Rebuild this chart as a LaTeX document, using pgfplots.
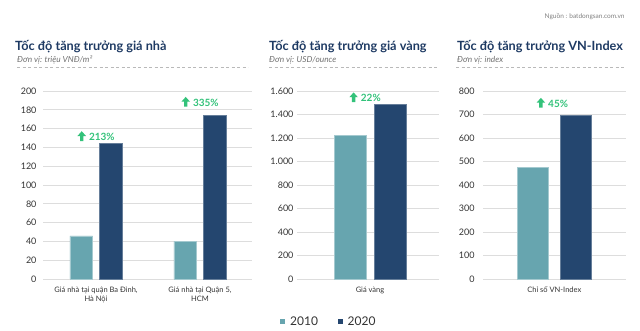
\documentclass[border=0pt]{standalone}
\usepackage{fontspec}
\setmainfont{Lato}
\usepackage{pgfplots}
\pgfplotsset{compat=1.18}
\definecolor{cA}{HTML}{67A5AF}
\definecolor{cB}{HTML}{24466F}
\definecolor{titlec}{HTML}{1E3A63}
\definecolor{greenc}{HTML}{33C27A}
\definecolor{gridc}{HTML}{DDDDDD}
\definecolor{tickc}{HTML}{333333}
\definecolor{subc}{HTML}{707070}
\pgfplotsset{
  panel/.style={
    scale only axis, ybar, ymin=0, height=188pt,
    axis line style={draw=none}, tick style={draw=none},
    ymajorgrids, grid style={gridc, line width=0.9pt},
    enlarge x limits=false, clip=false,
    /pgf/number format/assume math mode=true,
    /pgf/number format/1000 sep={.},
    yticklabel style={font=\fontsize{9}{10}\selectfont, color=tickc},
    xticklabel style={font=\fontsize{7.5}{9}\selectfont, color=tickc, align=center},
    anchor=south west,
  },
}
\tikzset{annot/.style={font=\fontsize{10}{12}\selectfont\bfseries, color=greenc}}
\newcommand{\uparr}{\tikz[baseline=0pt]\fill[greenc] (-1.7pt,-0.5pt) -- (1.7pt,-0.5pt) -- (1.7pt,4.5pt) -- (4.3pt,4.5pt) -- (0pt,9.3pt) -- (-4.3pt,4.5pt) -- (-1.7pt,4.5pt) -- cycle;}
\newcommand{\up}[1]{\uparr\hspace{3pt}#1}
\begin{document}
\begin{tikzpicture}
\path[use as bounding box] (0,0) rectangle (640pt,330pt);
% source
\node[anchor=east, font=\fontsize{6.5}{8}\selectfont, color=gray] at (628pt,313pt) {Nguồn : batdongsan.com.vn};
% titles
\node[anchor=base west, font=\fontsize{12.7}{14}\selectfont\bfseries, color=titlec, inner sep=0] at (15pt,279pt) {Tốc độ tăng trưởng giá nhà};
\node[anchor=base west, font=\fontsize{12.7}{14}\selectfont\bfseries, color=titlec, inner sep=0] at (269pt,279pt) {Tốc độ tăng trưởng giá vàng};
\node[anchor=base west, font=\fontsize{12.7}{14}\selectfont\bfseries, color=titlec, inner sep=0] at (457pt,279pt) {Tốc độ tăng trưởng VN-Index};
\node[anchor=base west, font=\fontsize{8.3}{9}\selectfont\itshape, color=subc, inner sep=0] at (17pt,267pt) {Đơn vị: triệu VNĐ/m²};
\node[anchor=base west, font=\fontsize{8.3}{9}\selectfont\itshape, color=subc, inner sep=0] at (269pt,267pt) {Đơn vị: USD/ounce};
\node[anchor=base west, font=\fontsize{8.3}{9}\selectfont\itshape, color=subc, inner sep=0] at (457pt,267pt) {Đơn vị: index};
\draw[gray!55, line width=0.8pt, dash pattern=on 3pt off 2.5pt] (17pt,262.5pt) -- (248pt,262.5pt);
\draw[gray!55, line width=0.8pt, dash pattern=on 3pt off 2.5pt] (269pt,262.5pt) -- (437pt,262.5pt);
\draw[gray!55, line width=0.8pt, dash pattern=on 3pt off 2.5pt] (456pt,262.5pt) -- (624pt,262.5pt);
% legend
\fill[cA] (279.5pt,6.5pt) rectangle (284.5pt,11.5pt);
\node[anchor=base west, inner sep=0, font=\fontsize{12}{14}\selectfont, color=tickc] at (290pt,4.7pt) {2010};
\fill[cB] (337.5pt,6.5pt) rectangle (342.5pt,11.5pt);
\node[anchor=base west, inner sep=0, font=\fontsize{12}{14}\selectfont, color=tickc] at (347.5pt,4.7pt) {2020};

% Panel 1
\begin{axis}[panel, at={(43pt,51pt)}, width=209pt,
  xmin=-0.51, xmax=1.5, ymax=200, ytick={0,20,...,200},
  bar width=22.7pt, ybar=6.7pt,
  xtick={0,1}, xticklabels={{Giá nhà tại quận Ba Đình,\\Hà Nội},{Giá nhà tại Quận 5,\\HCM}},
  yticklabel style={xshift=-3pt}]
\addplot[fill=cA, draw=cA!60!white] coordinates {(0,46) (1,40)};
\addplot[fill=cB, draw=cB!70!white] coordinates {(0,144) (1,174)};
\node[annot] at (axis cs:0,152) {\up{213\%}};
\node[annot] at (axis cs:1,188.5) {\up{335\%}};
\end{axis}

% Panel 2
\begin{axis}[panel, at={(297pt,51pt)}, width=142pt,
  xmin=-0.73, xmax=0.69, ymax=1600, ytick={0,200,...,1600},
  bar width=31.5pt, ybar=8.5pt,
  xtick={0}, xticklabels={Giá vàng},
  yticklabel style={xshift=0pt}]
\addplot[fill=cA, draw=cA!60!white] coordinates {(0,1220)};
\addplot[fill=cB, draw=cB!70!white] coordinates {(0,1490)};
\node[annot] at (axis cs:-0.05,1546) {\up{22\%}};
\end{axis}

% Panel 3
\begin{axis}[panel, at={(483pt,51pt)}, width=143pt,
  xmin=-0.713, xmax=0.717, ymax=800, ytick={0,100,...,800},
  bar width=31pt, ybar=12.5pt,
  xtick={0}, xticklabels={Chỉ số VN-Index},
  yticklabel style={xshift=-5pt}]
\addplot[fill=cA, draw=cA!60!white] coordinates {(0,477)};
\addplot[fill=cB, draw=cB!70!white] coordinates {(0,695)};
\node[annot] at (axis cs:-0.02,750) {\up{45\%}};
\end{axis}
\end{tikzpicture}
\end{document}
